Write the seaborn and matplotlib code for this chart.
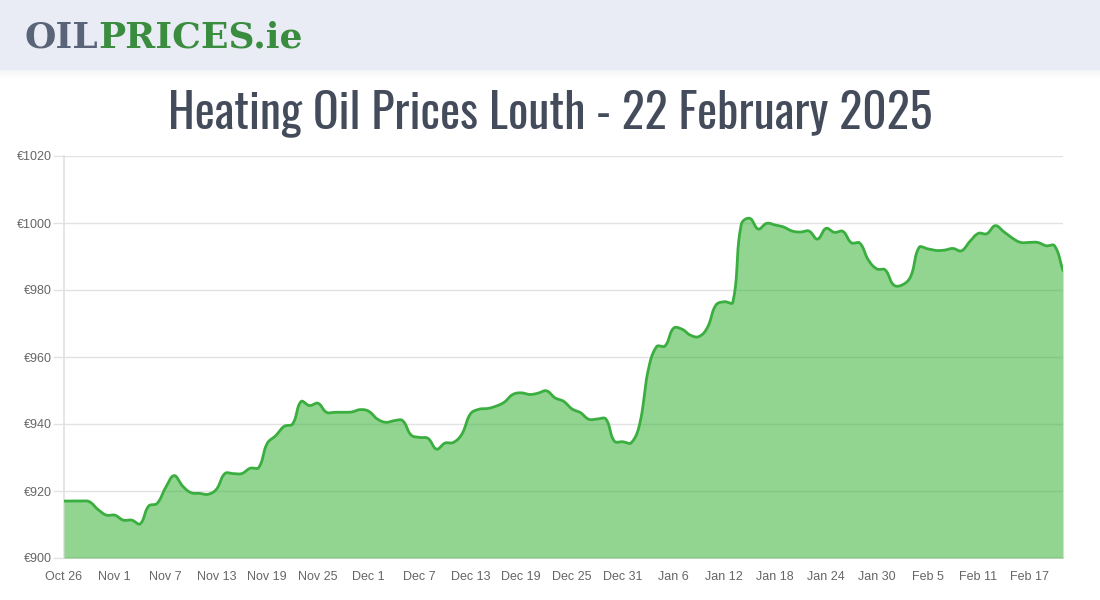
import numpy as np
import pandas as pd
import matplotlib
matplotlib.use("Agg")
import matplotlib.pyplot as plt
import seaborn as sns
from matplotlib.patches import Rectangle
from matplotlib import font_manager

# ---------------- data ----------------
start_date = "2024-10-26"
prices = [
    917, 917, 917, 916.8, 914.5, 912.8, 912.8, 911.3, 911.3, 910.2,
    915.5, 916.3, 921, 924.6, 921.5, 919.5, 919.3, 919, 920.5, 925.2,
    925.2, 925.2, 926.8, 927, 934.2, 936.5, 939.3, 940, 946.7, 945.5,
    946.2, 943.5, 943.5, 943.5, 943.6, 944.3, 943.8, 941.5, 940.5, 941,
    941, 936.7, 936, 935.7, 932.5, 934.3, 934.5, 937, 943, 944.4,
    944.6, 945.3, 946.5, 948.8, 949.3, 948.8, 949.2, 949.9, 947.8, 946.8,
    944.5, 943.4, 941.4, 941.5, 941.5, 934.9, 934.7, 934.4, 940, 956,
    963.1, 963.3, 968.6, 968.3, 966.5, 966.1, 968.8, 975.5, 976.5, 976.3,
    999.6, 1001.4, 998.2, 999.9, 999.4, 998.8, 997.6, 997.3, 997.6, 995.2,
    998.4, 997.2, 997.5, 994.1, 994, 989, 986.3, 986, 981.5, 981.5,
    984, 992.7, 992.3, 991.8, 991.9, 992.4, 991.7, 994.5, 996.9, 996.8,
    999.2, 997.4, 995.5, 994.2, 994.2, 994.2, 993.2, 993.2, 985.8,
]
y_ticks = [900, 920, 940, 960, 980, 1000, 1020]
y_tick_labels = ["€900", "€920", "€940", "€960", "€980", "€1000", "€1020"]
x_tick_step = 6
title_text = "Heating Oil Prices Louth - 22 February 2025"

dates = pd.date_range(start_date, periods=len(prices), freq="D")
days = np.arange(len(prices), dtype=float)
x_tick_pos = days[::x_tick_step]
x_tick_labels = [f"{d.strftime('%b')} {d.day}" for d in dates[::x_tick_step]]


# Chart.js-like bezier smoothing (tension 0.4) for rendering the daily series
def spline_curve(x, y, sx=8.456, sy=3.35, tension=0.4, per_seg=20):
    px = np.asarray(x, float) * sx
    py = np.asarray(y, float) * sy
    n = len(px)
    cpl = np.zeros((n, 2)); cpr = np.zeros((n, 2))
    for i in range(n):
        p = np.array([px[i], py[i]])
        prev = np.array([px[max(i - 1, 0)], py[max(i - 1, 0)]])
        nxt = np.array([px[min(i + 1, n - 1)], py[min(i + 1, n - 1)]])
        d01 = np.hypot(*(p - prev)); d12 = np.hypot(*(nxt - p))
        tot = d01 + d12
        s01 = d01 / tot if tot else 0; s12 = d12 / tot if tot else 0
        cpl[i] = p - tension * s01 * (nxt - prev)
        cpr[i] = p + tension * s12 * (nxt - prev)
    outx, outy = [], []
    t = np.linspace(0, 1, per_seg, endpoint=False)
    for i in range(n - 1):
        p0 = np.array([px[i], py[i]]); p3 = np.array([px[i + 1], py[i + 1]])
        p1 = cpr[i]; p2 = cpl[i + 1]
        b = ((1 - t)[:, None] ** 3 * p0 + 3 * ((1 - t) ** 2 * t)[:, None] * p1
             + 3 * ((1 - t) * t ** 2)[:, None] * p2 + (t ** 3)[:, None] * p3)
        outx.append(b[:, 0]); outy.append(b[:, 1])
    outx.append([px[-1]]); outy.append([py[-1]])
    return np.concatenate(outx) / sx, np.concatenate(outy) / sy


xs, ys = spline_curve(days, prices)
smooth = pd.DataFrame({"day": xs, "price": ys})

# ---------------- fonts ----------------
sns.set_theme(style="white")
plt.rcParams["font.family"] = ["Liberation Sans", "DejaVu Sans"]

installed = {f.name for f in font_manager.fontManager.ttflist}
title_family = "DejaVu Sans"
title_kw = dict(fontweight="bold", fontstretch="condensed")
for cand in ["Oswald", "Liberation Sans Narrow", "Roboto Condensed", "DejaVu Sans Condensed",
             "Open Sans Condensed", "Noto Sans Condensed"]:
    if cand in installed:
        title_family = cand
        title_kw = dict(fontweight="normal" if cand == "Oswald" else "bold")
        break
else:
    cond = [f for f in font_manager.fontManager.ttflist
            if f.name == "DejaVu Sans" and "ondensed" in f.fname]
    if not cond:
        title_family = "Roboto"
        title_kw = dict(fontweight="medium")

# ---------------- figure ----------------
fig = plt.figure(figsize=(11, 6), dpi=100)
fig.patch.set_facecolor("white")

header_h = 70 / 600
for i in range(8):
    fig.add_artist(Rectangle((0, 1 - header_h - (i + 1) / 600), 1, 1 / 600,
                             transform=fig.transFigure, color="#c8ccd6",
                             alpha=0.18 * (1 - i / 8), lw=0, zorder=0))
fig.add_artist(Rectangle((0, 1 - header_h), 1, header_h, transform=fig.transFigure,
                         color="#e9ecf4", lw=0, zorder=1))

logo_y = 1 - 38 / 600
t1 = fig.text(25 / 1100, logo_y, "OIL", fontsize=26, fontweight="black",
              family="DejaVu Serif", color="#5a6478", va="center", ha="left", zorder=2)
fig.canvas.draw()
bb = t1.get_window_extent()
fig.text(bb.x1 / 1100, logo_y, "PRICES.ie", fontsize=26, fontweight="black",
         family="DejaVu Serif", color="#3a8c3f", va="center", ha="left", zorder=2)

# title, sized to span the reference's width
tt = fig.text(550 / 1100, 1 - 113 / 600, title_text, fontsize=36,
              family=title_family, color="#444c5c", ha="center", va="center", **title_kw)
fig.canvas.draw()
w = tt.get_window_extent().width
target_w = 764
fs = 36 * target_w / w
fs = min(fs, 40)
tt.set_fontsize(fs)

ax = fig.add_axes([64 / 1100, 1 - 558 / 600, (1063 - 64) / 1100, (558 - 156) / 600])
ax.set_facecolor("white")

ax.fill_between(smooth["day"], smooth["price"], 900, color="#3cb43c", alpha=0.56,
                lw=0, zorder=3)
sns.lineplot(data=smooth, x="day", y="price", ax=ax, color="#3aae3f", lw=2, zorder=4,
             sort=False, estimator=None)

ax.set_xlim(days[0], days[-1])
ax.set_ylim(900, 1020)
ax.set_yticks(y_ticks)
ax.set_yticklabels(y_tick_labels)
ax.set_xticks(x_tick_pos)
ax.set_xticklabels(x_tick_labels)
ax.set_xlabel("")
ax.set_ylabel("")

ax.grid(axis="y", color="#e2e2e2", lw=1, zorder=0)
ax.grid(axis="x", visible=False)
ax.set_axisbelow(True)

for side in ["top", "right"]:
    ax.spines[side].set_visible(False)
ax.spines["left"].set_color("#e2e2e2")
ax.spines["bottom"].set_color("#e2e2e2")

ax.tick_params(axis="y", which="both", left=True, length=8, width=1, color="#e2e2e2",
               labelsize=9, labelcolor="#666666", pad=1)
ax.tick_params(axis="x", which="both", bottom=False, length=0,
               labelsize=9, labelcolor="#666666", pad=9)

fig.savefig("out.png", dpi=100, facecolor=fig.get_facecolor())
